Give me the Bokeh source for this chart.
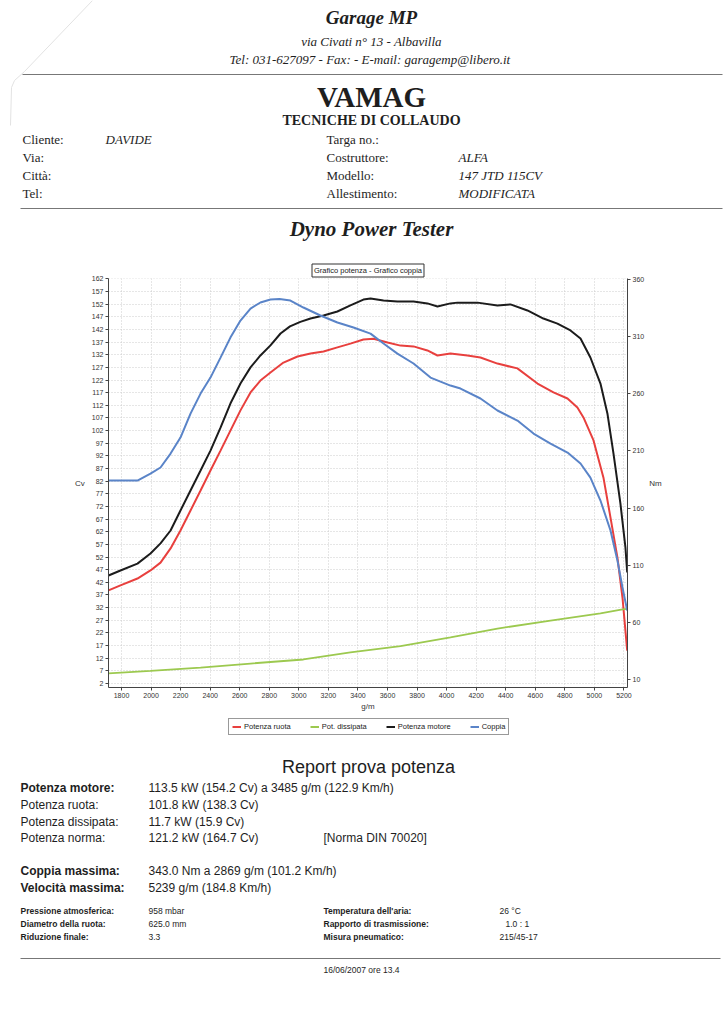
from bokeh.plotting import figure
from bokeh.models import Range1d, LinearAxis, FixedTicker, Legend, LegendItem
from bokeh.embed import file_html
from bokeh.resources import INLINE
from bokeh.core.properties import value

# ---------------- data ----------------
rpm_ruota = [1712, 1793, 1908, 1996, 2064, 2132, 2199, 2267, 2335, 2402, 2470, 2537, 2605, 2673,
             2740, 2808, 2896, 2991, 3079, 3167, 3261, 3349, 3437, 3505, 3600, 3688, 3776, 3870,
             3938, 4026, 4141, 4229, 4344, 4479, 4615, 4723, 4818, 4885, 4926, 4994, 5061, 5109,
             5156, 5190, 5222]
cv_ruota = [38.8, 40.8, 43.5, 46.7, 49.8, 55.4, 62.5, 70.4, 78.3, 86.2, 94.1, 102.0, 110.0, 117.1,
            121.8, 125.0, 128.9, 131.3, 132.5, 133.3, 134.9, 136.4, 138.0, 138.3, 136.8, 135.6, 135.3,
            133.7, 131.7, 132.5, 131.7, 130.9, 128.5, 126.6, 120.6, 117.1, 114.7, 111.1, 107.2, 98.1,
            83.5, 67.6, 51.8, 36.0, 15.0]

rpm_dissipata = [1712, 1996, 2335, 2673, 3031, 3349, 3688, 4026, 4344, 4703, 5041, 5190, 5222]
cv_dissipata = [6.0, 7.0, 8.3, 9.9, 11.5, 14.3, 16.8, 20.2, 23.7, 26.9, 29.7, 31.3, 31.5]

rpm_motore = [1712, 1793, 1908, 1996, 2064, 2132, 2199, 2267, 2335, 2402, 2470, 2537, 2605, 2673,
              2740, 2808, 2876, 2940, 3010, 3079, 3167, 3261, 3349, 3437, 3485, 3573, 3667, 3776, 3870,
              3938, 4026, 4073, 4209, 4344, 4432, 4547, 4655, 4750, 4838, 4906, 4973, 5041, 5088,
              5129, 5176, 5210, 5222]
cv_motore = [44.7, 46.7, 49.4, 53.4, 57.4, 62.5, 70.4, 78.3, 86.2, 94.1, 103.2, 112.7, 120.6, 127.0,
             131.7, 135.7, 140.4, 143.2, 145.0, 146.3, 147.5, 149.1, 151.5, 153.8, 154.2, 153.4, 153.0,
             153.0, 152.3, 151.1, 152.3, 152.6, 152.6, 151.5, 151.9, 149.5, 146.3, 144.3, 141.6, 138.4,
             130.9, 120.6, 108.8, 93.0, 73.2, 55.8, 45.9]

rpm_coppia = [1712, 1908, 1996, 2064, 2132, 2199, 2267, 2335, 2402, 2470, 2537, 2605, 2673, 2740,
              2808, 2869, 2943, 3031, 3146, 3261, 3370, 3485, 3573, 3667, 3776, 3891, 4026, 4094,
              4229, 4344, 4479, 4588, 4703, 4818, 4906, 4973, 5041, 5109, 5156, 5190, 5222]
nm_coppia = [184.1, 184.1, 190.2, 195.5, 207.7, 221.7, 242.7, 260.2, 274.2, 291.7, 309.2, 324.1, 334.6,
             339.9, 342.5, 343.0, 341.6, 335.5, 328.5, 322.4, 318.0, 312.7, 304.0, 295.2, 286.5, 274.2,
             267.2, 264.6, 255.9, 245.4, 236.6, 225.2, 216.5, 208.6, 199.0, 186.7, 166.6, 140.4, 114.1,
             90.5, 70.4]

rpm_ticks = [1800, 2000, 2200, 2400, 2600, 2800, 3000, 3200, 3400, 3600, 3800, 4000, 4200, 4400,
             4600, 4800, 5000, 5200]
cv_ticks = [2, 7, 12, 17, 22, 27, 32, 37, 42, 47, 52, 57, 62, 67, 72, 77, 82, 87, 92, 97, 102, 107,
            112, 117, 122, 127, 132, 137, 142, 147, 152, 157, 162]
nm_ticks = [10, 60, 110, 160, 210, 260, 310, 360]

series_labels = ["Potenza ruota", "Pot. dissipata", "Potenza motore", "Coppia"]
series_colors = ["#e8403e", "#9cc94f", "#1c1c1c", "#5a84c8"]

# ---------------- styles ----------------
W = 726
SERIF = value("Liberation Serif")
SANS = value("Liberation Sans")
INK = "#1e1e1e"


def page_fig(h):
    f = figure(width=W, height=h, x_range=Range1d(0, W), y_range=Range1d(h, 0),
               x_axis_type=None, y_axis_type=None, toolbar_location=None,
               output_backend="svg", min_border=0, outline_line_color=None)
    f.grid.visible = False
    return f


def txt(f, x, y, s, font, size, style="normal", align="left", color=INK):
    f.text(x=[x], y=[y], text=[s], text_font=font, text_font_size=size,
           text_font_style=style, text_align=align, text_baseline="middle", text_color=color)


# ---------------- header ----------------
HH = 255
hdr = page_fig(HH)
# faint fold of the scanned sheet (top-left corner)
hdr.line(x=[92, 24, 14, 11, 10], y=[0, 71, 80, 87, 125], line_color="#e2e2e2", line_width=1)
txt(hdr, 371, 17, "Garage MP", SERIF, "19px", "bold italic", "center")
txt(hdr, 371, 41, "via Civati n° 13 - Albavilla", SERIF, "13px", "italic", "center")
txt(hdr, 371, 59, "Tel: 031-627097 - Fax:  - E-mail: garagemp@libero.it", SERIF, "13px", "italic", "center")
hdr.segment(x0=[22], y0=[74], x1=[722], y1=[74], line_color="#777", line_width=1)
txt(hdr, 371, 96, "VAMAG", SERIF, "29px", "bold", "center")
txt(hdr, 371, 120, "TECNICHE DI COLLAUDO", SERIF, "14px", "bold", "center")
for yy, lab in zip([139, 157, 175, 193], ["Cliente:", "Via:", "Città:", "Tel:"]):
    txt(hdr, 22, yy, lab, SERIF, "13px")
txt(hdr, 105, 139, "DAVIDE", SERIF, "13px", "italic")
for yy, lab in zip([139, 157, 175, 193], ["Targa no.:", "Costruttore:", "Modello:", "Allestimento:"]):
    txt(hdr, 326, yy, lab, SERIF, "13px")
for yy, lab in zip([157, 175, 193], ["ALFA", "147 JTD 115CV", "MODIFICATA"]):
    txt(hdr, 458, yy, lab, SERIF, "13px", "italic")
hdr.segment(x0=[20], y0=[208], x1=[722], y1=[208], line_color="#777", line_width=1)
txt(hdr, 371, 228, "Dyno Power Tester", SERIF, "21px", "bold italic", "center")

# ---------------- chart ----------------
p = figure(width=W, height=460, x_range=Range1d(1712, 5224), y_range=Range1d(0.42, 162.14),
           toolbar_location=None, output_backend="svg",
           min_border_left=108, min_border_right=99, min_border_top=23, min_border_bottom=28,
           outline_line_color=None)
p.extra_y_ranges = {"nm": Range1d(3.0, 360.9)}

p.title.text = "Grafico potenza - Grafico coppia"
p.title.align = "center"
p.title.text_font = "Liberation Sans"
p.title.text_font_size = "7.5px"
p.title.text_font_style = "normal"
p.title.text_color = "#222"
p.title.border_line_color = "#333"
p.title.border_line_width = 1
p.title.background_fill_color = "white"
p.title.padding = 2
p.title.standoff = 3
p.title.offset = 2

p.xaxis.ticker = FixedTicker(ticks=rpm_ticks)
p.yaxis.ticker = FixedTicker(ticks=cv_ticks)
p.xaxis.axis_label = "g/m"
p.yaxis.axis_label = "Cv"
p.yaxis.axis_label_orientation = "horizontal"

nm_axis = LinearAxis(y_range_name="nm", ticker=FixedTicker(ticks=nm_ticks), axis_label="Nm",
                     axis_label_orientation="horizontal")
p.add_layout(nm_axis, "right")

for ax in [p.xaxis[0], p.yaxis[0], nm_axis]:
    ax.major_label_text_font = "Liberation Sans"
    ax.major_label_text_font_size = "7px"
    ax.major_label_text_color = "#333"
    ax.major_label_standoff = 2
    ax.axis_label_text_font = "Liberation Sans"
    ax.axis_label_text_font_size = "8px"
    ax.axis_label_text_font_style = "normal"
    ax.axis_label_text_color = "#333"
    ax.axis_label_standoff = 4
    ax.axis_line_color = "#444"
    ax.major_tick_line_color = "#444"
    ax.major_tick_out = 3
    ax.major_tick_in = 0
    ax.minor_tick_line_color = None
p.xaxis.axis_label_standoff = 1
nm_axis.axis_label_standoff = 2

p.xgrid.grid_line_color = "#cccccc"
p.ygrid.grid_line_color = "#cccccc"
p.xgrid.grid_line_dash = "1 2"
p.ygrid.grid_line_dash = "1 2"

p.line(rpm_ruota, cv_ruota, line_color=series_colors[0], line_width=2)
p.line(rpm_dissipata, cv_dissipata, line_color=series_colors[1], line_width=1.8)
p.line(rpm_motore, cv_motore, line_color=series_colors[2], line_width=2)
p.line(rpm_coppia, nm_coppia, line_color=series_colors[3], line_width=2, y_range_name="nm")

# ---------------- legend strip ----------------
LH = 30
lg = figure(width=W, height=LH, x_range=Range1d(0, 1), y_range=Range1d(0, 1),
            x_axis_type=None, y_axis_type=None, toolbar_location=None,
            output_backend="svg", min_border=0, outline_line_color=None)
lg.grid.visible = False
# swatch renderers kept outside the strip's visible range; only their legend glyphs show
swatches = [lg.line(x=[5, 6], y=[5, 6], line_color=c, line_width=2) for c in series_colors]
legend = Legend(items=[LegendItem(label=l, renderers=[r]) for l, r in zip(series_labels, swatches)],
                location=(228, 10), orientation="horizontal",
                label_text_font="Liberation Sans", label_text_font_size="7.5px", label_text_color="#222",
                glyph_width=9, glyph_height=9, label_height=9, label_standoff=3, spacing=19,
                padding=3, margin=0, border_line_color="#333", border_line_width=1,
                background_fill_color="white", background_fill_alpha=1)
lg.add_layout(legend)

# ---------------- report ----------------
FH = 279
ftr = page_fig(FH)
txt(ftr, 368, 21, "Report prova potenza", SANS, "18px", "normal", "center")
rows = [(42, "Potenza motore:", "bold", "113.5 kW (154.2 Cv) a 3485 g/m (122.9 Km/h)"),
        (59, "Potenza ruota:", "normal", "101.8 kW (138.3 Cv)"),
        (76, "Potenza dissipata:", "normal", "11.7 kW (15.9 Cv)"),
        (92, "Potenza norma:", "normal", "121.2 kW (164.7 Cv)"),
        (125, "Coppia massima:", "bold", "343.0 Nm a 2869 g/m (101.2 Km/h)"),
        (142, "Velocità massima:", "bold", "5239 g/m (184.8 Km/h)")]
for yy, lab, st, val in rows:
    txt(ftr, 20, yy, lab, SANS, "12px", st)
    txt(ftr, 148, yy, val, SANS, "12px")
txt(ftr, 323, 92, "[Norma DIN 70020]", SANS, "12px")

small = [(165, "Pressione atmosferica:", "958 mbar", "Temperatura dell'aria:", "26 °C", 499),
         (178, "Diametro della ruota:", "625.0 mm", "Rapporto di trasmissione:", "1.0 : 1", 505),
         (191, "Riduzione finale:", "3.3", "Misura pneumatico:", "215/45-17", 499)]
for yy, a, b, c, d, xd in small:
    txt(ftr, 20, yy, a, SANS, "8.5px", "bold")
    txt(ftr, 148, yy, b, SANS, "8.5px")
    txt(ftr, 323, yy, c, SANS, "8.5px", "bold")
    txt(ftr, xd, yy, d, SANS, "8.5px")
ftr.segment(x0=[20], y0=[213], x1=[720], y1=[213], line_color="#777", line_width=1)
txt(ftr, 361, 224, "16/06/2007 ore 13.4", SANS, "8.5px", "normal", "center")

open("out.html", "w").write(file_html([hdr, p, lg, ftr], INLINE))
